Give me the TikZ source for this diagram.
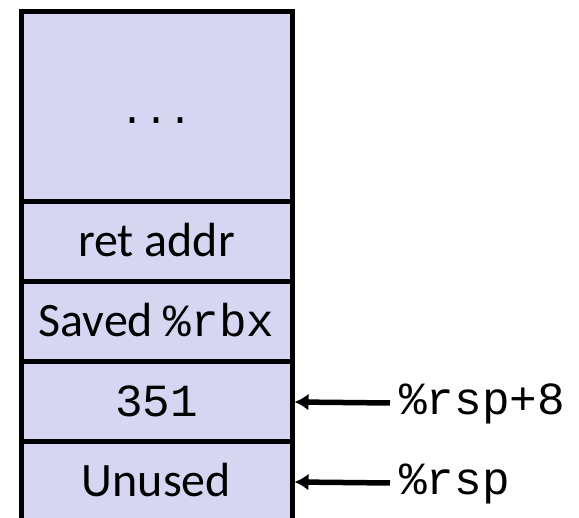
\documentclass[tikz,border=0pt]{standalone}
\usepackage{fontspec}
\setmainfont{Carlito}
\newfontfamily\codefont{Liberation Mono}
\usetikzlibrary{arrows.meta}
\definecolor{stackfill}{RGB}{214,214,243}
\newcommand{\cellfont}{\fontsize{48}{52}\selectfont}
\newcommand{\regfont}{\fontsize{46}{50}\selectfont}
\begin{document}
\begin{tikzpicture}[x=1pt, y=1pt,
  cell/.style={draw=black, line width=5pt, fill=stackfill, minimum width=271pt, inner sep=0pt, text height=34pt, text depth=4pt, font=\cellfont},
  reglabel/.style={anchor=west, inner xsep=9pt, inner ysep=0pt, text height=30pt, text depth=6pt, font=\regfont\codefont},
  pointer/.style={-{Latex[length=14pt, width=17pt]}, line width=5.5pt}]
\useasboundingbox (0,0) rectangle (579,518);
\node[cell, minimum height=190pt, text height=34pt, text depth=0pt, font=\codefont\fontsize{40}{42}\selectfont] (more) at (156.5,411) {...};
\node[cell, minimum height=80pt] (retaddr) at (156.5,276) {ret addr};
\node[cell, minimum height=80pt] (savedrbx) at (156.5,196) {Saved {\regfont\codefont\%rbx}};
\node[cell, minimum height=80pt] (val) at (156.5,116) {\regfont\codefont 351};
\node[cell, minimum height=80pt] (unused) at (156.5,36) {Unused};
\node[reglabel] (rspeight) at (390,115) {\%rsp+8};
\node[reglabel] (rsp) at (390,35) {\%rsp};
\draw[pointer] (rspeight.west) -- (val.east);
\draw[pointer] (rsp.west) -- (unused.east);
\end{tikzpicture}
\end{document}
